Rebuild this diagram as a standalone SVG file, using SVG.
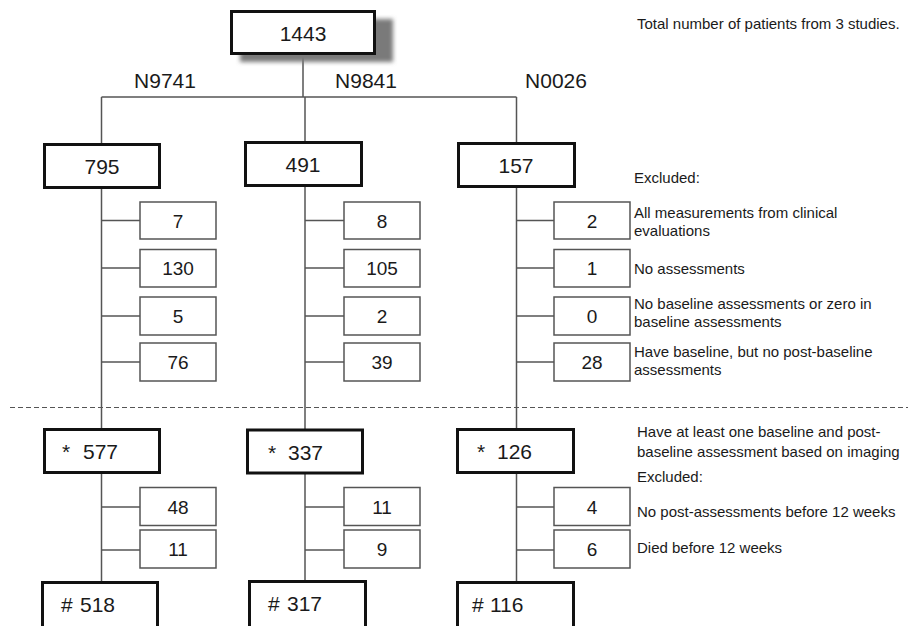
<svg xmlns="http://www.w3.org/2000/svg" width="908" height="626" viewBox="0 0 908 626">
<defs>
<filter id="sh" x="-20%" y="-40%" width="140%" height="180%"><feGaussianBlur stdDeviation="2.2"/></filter>
</defs>
<style>
text{font-family:"Liberation Sans",Arial,sans-serif;fill:#1a1a1a}
.big{fill:#fff;stroke:#111;stroke-width:3}
.sm{fill:#fff;stroke:#555;stroke-width:1.5}
.bn{font-size:21px;text-anchor:middle}
.bl{font-size:21px}
.sn{font-size:19px;text-anchor:middle}
.lab{font-size:21px;text-anchor:middle}
.note{font-size:15px}
.con{stroke:#555;stroke-width:1.5;fill:none}
.dash{stroke:#555;stroke-width:1;stroke-dasharray:5 3;fill:none}
</style>
<rect width="908" height="626" fill="#fff"/>
<g id="connectors">
<line class="con" x1="303" y1="54" x2="303" y2="97"/>
<line class="con" x1="101.5" y1="97" x2="516.5" y2="97"/>
<line class="con" x1="101.5" y1="97" x2="101.5" y2="590"/>
<line class="con" x1="305" y1="97" x2="305" y2="590"/>
<line class="con" x1="516.5" y1="97" x2="516.5" y2="590"/>
<line class="con" x1="101.5" y1="220.5" x2="140" y2="220.5"/>
<line class="con" x1="101.5" y1="268" x2="140" y2="268"/>
<line class="con" x1="101.5" y1="316" x2="140" y2="316"/>
<line class="con" x1="101.5" y1="362" x2="140" y2="362"/>
<line class="con" x1="305" y1="220.5" x2="344" y2="220.5"/>
<line class="con" x1="305" y1="268" x2="344" y2="268"/>
<line class="con" x1="305" y1="316" x2="344" y2="316"/>
<line class="con" x1="305" y1="362" x2="344" y2="362"/>
<line class="con" x1="516.5" y1="220.5" x2="554" y2="220.5"/>
<line class="con" x1="516.5" y1="268" x2="554" y2="268"/>
<line class="con" x1="516.5" y1="316" x2="554" y2="316"/>
<line class="con" x1="516.5" y1="362" x2="554" y2="362"/>
<line class="con" x1="101.5" y1="507" x2="140" y2="507"/>
<line class="con" x1="101.5" y1="550" x2="140" y2="550"/>
<line class="con" x1="305" y1="507" x2="344" y2="507"/>
<line class="con" x1="305" y1="550" x2="344" y2="550"/>
<line class="con" x1="516.5" y1="507" x2="554" y2="507"/>
<line class="con" x1="516.5" y1="550" x2="554" y2="550"/>
<line class="dash" x1="10" y1="407.5" x2="908" y2="407.5"/>
</g>
<g id="n1443">
<rect x="240" y="19" width="153" height="43" fill="#7a7a7a" filter="url(#sh)"/>
<rect class="big" x="231.5" y="11.5" width="143" height="42"/>
<text class="bn" x="303" y="41">1443</text>
</g>
<g id="labels">
<text class="lab" x="165" y="88">N9741</text>
<text class="lab" x="366" y="88">N9841</text>
<text class="lab" x="556" y="88">N0026</text>
</g>
<g id="n795"><rect class="big" x="44.5" y="144.5" width="115" height="43"/><text class="bn" x="102" y="174">795</text></g>
<g id="n491"><rect class="big" x="245.5" y="142.5" width="116" height="43"/><text class="bn" x="303" y="172">491</text></g>
<g id="n157"><rect class="big" x="458.5" y="143.5" width="116" height="43"/><text class="bn" x="516" y="173">157</text></g>
<g id="c1r1"><rect class="sm" x="140" y="202" width="76" height="37"/><text class="sn" x="178" y="227.5">7</text></g>
<g id="c1r2"><rect class="sm" x="140" y="249.5" width="76" height="37.5"/><text class="sn" x="178" y="275">130</text></g>
<g id="c1r3"><rect class="sm" x="140" y="297" width="76" height="38"/><text class="sn" x="178" y="323">5</text></g>
<g id="c1r4"><rect class="sm" x="140" y="343" width="76" height="38"/><text class="sn" x="178" y="369">76</text></g>
<g id="c2r1"><rect class="sm" x="344" y="202" width="76" height="37"/><text class="sn" x="382" y="227.5">8</text></g>
<g id="c2r2"><rect class="sm" x="344" y="249.5" width="76" height="37.5"/><text class="sn" x="382" y="275">105</text></g>
<g id="c2r3"><rect class="sm" x="344" y="297" width="76" height="38"/><text class="sn" x="382" y="323">2</text></g>
<g id="c2r4"><rect class="sm" x="344" y="343" width="76" height="38"/><text class="sn" x="382" y="369">39</text></g>
<g id="c3r1"><rect class="sm" x="554" y="202" width="76" height="37"/><text class="sn" x="592" y="227.5">2</text></g>
<g id="c3r2"><rect class="sm" x="554" y="249.5" width="76" height="37.5"/><text class="sn" x="592" y="275">1</text></g>
<g id="c3r3"><rect class="sm" x="554" y="297" width="76" height="38"/><text class="sn" x="592" y="323">0</text></g>
<g id="c3r4"><rect class="sm" x="554" y="343" width="76" height="38"/><text class="sn" x="592" y="369">28</text></g>
<g id="n577"><rect class="big" x="44.5" y="429.5" width="115" height="43"/><text class="bl" x="62" y="459">*</text><text class="bl" x="83" y="459">577</text></g>
<g id="n337"><rect class="big" x="247.5" y="430" width="115" height="43"/><text class="bl" x="268" y="460">*</text><text class="bl" x="288" y="460">337</text></g>
<g id="n126"><rect class="big" x="457.5" y="429.5" width="116" height="43"/><text class="bl" x="477" y="459">*</text><text class="bl" x="497" y="459">126</text></g>
<g id="c1l1"><rect class="sm" x="140" y="487.5" width="76" height="38"/><text class="sn" x="178" y="513.5">48</text></g>
<g id="c1l2"><rect class="sm" x="140" y="530" width="76" height="38"/><text class="sn" x="178" y="556">11</text></g>
<g id="c2l1"><rect class="sm" x="344" y="487.5" width="76" height="38"/><text class="sn" x="382" y="513.5">11</text></g>
<g id="c2l2"><rect class="sm" x="344" y="530" width="76" height="38"/><text class="sn" x="382" y="556">9</text></g>
<g id="c3l1"><rect class="sm" x="554" y="487.5" width="76" height="38"/><text class="sn" x="592" y="513.5">4</text></g>
<g id="c3l2"><rect class="sm" x="554" y="530" width="76" height="38"/><text class="sn" x="592" y="556">6</text></g>
<g id="n518"><rect class="big" x="42.5" y="582.5" width="115" height="60"/><text class="bl" x="61" y="612">#</text><text class="bl" x="80" y="612">518</text></g>
<g id="n317"><rect class="big" x="249.5" y="581.5" width="116" height="60"/><text class="bl" x="268" y="611">#</text><text class="bl" x="287" y="611">317</text></g>
<g id="n116"><rect class="big" x="457.5" y="582.5" width="116" height="60"/><text class="bl" x="472" y="612">#</text><text class="bl" x="490" y="612">116</text></g>
<g id="notes">
<text class="note" x="637" y="29">Total number of patients from 3 studies.</text>
<text class="note" x="634" y="183">Excluded:</text>
<text class="note" x="634" y="218">All measurements from clinical</text>
<text class="note" x="634" y="236">evaluations</text>
<text class="note" x="634" y="274">No assessments</text>
<text class="note" x="634" y="309">No baseline assessments or zero in</text>
<text class="note" x="634" y="327">baseline assessments</text>
<text class="note" x="634" y="357">Have baseline, but no post-baseline</text>
<text class="note" x="634" y="375">assessments</text>
<text class="note" x="637" y="437">Have at least one baseline and post-</text>
<text class="note" x="637" y="457">baseline assessment based on imaging</text>
<text class="note" x="637" y="482">Excluded:</text>
<text class="note" x="637" y="517">No post-assessments before 12 weeks</text>
<text class="note" x="637" y="553">Died before 12 weeks</text>
</g>
</svg>
